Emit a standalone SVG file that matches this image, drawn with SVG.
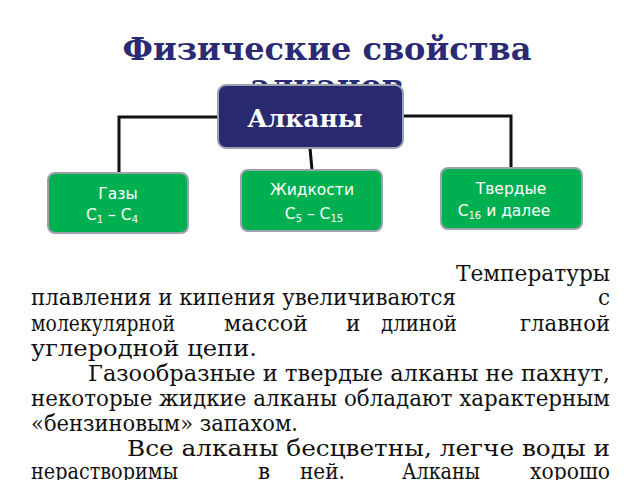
<svg xmlns="http://www.w3.org/2000/svg" width="640" height="480" viewBox="0 0 640 480">
<style>
.g{fill:#00b050;stroke:#9aa3ad;stroke-width:2}
.n{font-family:"DejaVu Sans",sans-serif;font-size:15.5px;fill:#fff;text-anchor:middle}
.b{font-family:"DejaVu Serif",serif;font-size:21.5px;fill:#111}
.c{fill:none;stroke:#111;stroke-width:3}
</style>
<rect width="640" height="480" fill="#fff"/>
<g id="title" font-family="DejaVu Serif,serif" font-weight="bold" font-size="32" fill="#2b2b74" text-anchor="middle">
<text x="327" y="60">Физические свойства</text>
<text x="327" y="97">алканов</text>
</g>
<g id="connectors">
<path class="c" d="M218 117H119V173"/>
<path class="c" d="M403 116H511V168"/>
<path class="c" d="M310 148L312 170"/>
</g>
<g id="alkany">
<rect x="218" y="85" width="185" height="63" rx="8" fill="#29296f" stroke="#9aa3ad" stroke-width="2"/>
<text x="305" y="127" font-family="DejaVu Serif,serif" font-weight="bold" font-size="25" fill="#fff" text-anchor="middle">Алканы</text>
</g>
<g id="gases">
<rect class="g" x="48" y="173" width="140" height="60" rx="7"/>
<text class="n" x="118" y="199">Газы</text>
<text class="n" x="112" y="220">C<tspan font-size="10" dy="3">1</tspan><tspan dy="-3"> – C</tspan><tspan font-size="10" dy="3">4</tspan></text>
</g>
<g id="liquids">
<rect class="g" x="241" y="170" width="141" height="61" rx="7"/>
<text class="n" x="312" y="195">Жидкости</text>
<text class="n" x="314" y="219">C<tspan font-size="10" dy="3">5</tspan><tspan dy="-3"> – C</tspan><tspan font-size="10" dy="3">15</tspan></text>
</g>
<g id="solids">
<rect class="g" x="441" y="168" width="141" height="61" rx="7"/>
<text class="n" x="511" y="194">Твердые</text>
<text class="n" x="504" y="216">C<tspan font-size="10" dy="3">16</tspan><tspan dy="-3"> и далее</tspan></text>
</g>
<g id="body">
<text class="b" x="456" y="281" textLength="154" lengthAdjust="spacingAndGlyphs">Температуры</text>
<text class="b" x="31" y="305" textLength="425" lengthAdjust="spacingAndGlyphs">плавления и кипения увеличиваются</text>
<text class="b" x="610" y="305" text-anchor="end">с</text>
<text class="b" x="31" y="331" textLength="144" lengthAdjust="spacingAndGlyphs">молекулярной</text>
<text class="b" x="224" y="331" textLength="84" lengthAdjust="spacingAndGlyphs">массой</text>
<text class="b" x="346" y="331">и</text>
<text class="b" x="381" y="331" textLength="76" lengthAdjust="spacingAndGlyphs">длиной</text>
<text class="b" x="520" y="331" textLength="90" lengthAdjust="spacingAndGlyphs">главной</text>
<text class="b" x="31" y="356" textLength="226" lengthAdjust="spacingAndGlyphs">углеродной цепи.</text>
<text class="b" x="88" y="381" textLength="522" lengthAdjust="spacingAndGlyphs">Газообразные и твердые алканы не пахнут,</text>
<text class="b" x="31" y="406" textLength="579" lengthAdjust="spacingAndGlyphs">некоторые жидкие алканы обладают характерным</text>
<text class="b" x="31" y="431" textLength="267" lengthAdjust="spacingAndGlyphs">«бензиновым» запахом.</text>
<text class="b" x="127" y="456" textLength="483" lengthAdjust="spacingAndGlyphs">Все алканы бесцветны, легче воды и</text>
<text class="b" x="31" y="479" textLength="147" lengthAdjust="spacingAndGlyphs">нерастворимы</text>
<text class="b" x="258" y="479">в</text>
<text class="b" x="300" y="479" textLength="45" lengthAdjust="spacingAndGlyphs">ней.</text>
<text class="b" x="402" y="479" textLength="78" lengthAdjust="spacingAndGlyphs">Алканы</text>
<text class="b" x="530" y="479" textLength="80" lengthAdjust="spacingAndGlyphs">хорошо</text>
</g>
</svg>
